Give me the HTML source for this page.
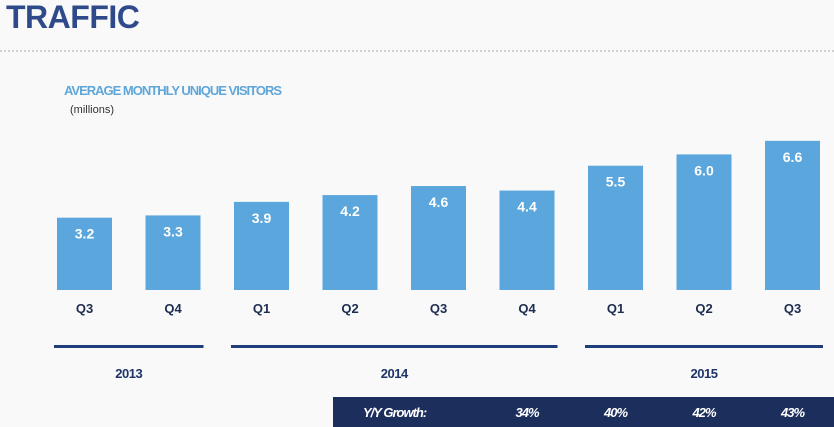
<!DOCTYPE html>
<html><head><meta charset="utf-8"><style>
body{margin:0;width:834px;height:427px;background:#f9f9f9;font-family:"Liberation Sans",Arial,sans-serif;overflow:hidden;position:relative}
.t{position:absolute}
</style></head><body>
<div class="t" style="left:6px;top:-1px;font-size:32px;font-weight:bold;color:#2e4a8a;letter-spacing:-0.5px">TRAFFIC</div>
<div class="t" style="left:0;top:50px;width:834px;border-top:2px dotted #d0d0d0"></div>
<div class="t" style="left:64px;top:83px;font-size:13px;font-weight:bold;color:#5fa6d9;letter-spacing:-1px">AVERAGE MONTHLY UNIQUE VISITORS</div>
<div class="t" style="left:70px;top:104px;font-size:11px;color:#333">(millions)</div>
<svg id="chart" class="t" style="left:0;top:0" width="834" height="427"></svg>
<script>
const quarters=["Q3","Q4","Q1","Q2","Q3","Q4","Q1","Q2","Q3"];
const visitors=[3.2,3.3,3.9,4.2,4.6,4.4,5.5,6.0,6.6];
const years=["2013","2014","2015"];
const yearSpans=[[0,1],[2,5],[6,8]];
const growthLabels=["34%","40%","42%","43%"];
const NS="http://www.w3.org/2000/svg";
const svg=document.getElementById('chart');
const base=290,unit=22.6,x0=57,pitch=88.5,bw=55;
const xs=i=>x0+i*pitch;
const ys=v=>base-v*unit;
function mk(t,a){const e=document.createElementNS(NS,t);for(const k in a)e.setAttribute(k,a[k]);svg.appendChild(e);return e;}
visitors.forEach((v,i)=>{
 const r=mk('rect',{x:xs(i),y:ys(v),width:bw,height:base-ys(v),fill:'#5ba7dd'});
 
 
 const t=mk('text',{x:xs(i)+bw/2,y:ys(v)+21,'text-anchor':'middle','font-size':14,'font-weight':'bold',fill:'#fff','font-family':'Liberation Sans'});
 t.textContent=v.toFixed(1);
 
 
 const q=mk('text',{x:xs(i)+bw/2,y:313,'text-anchor':'middle','font-size':13,'font-weight':'bold',fill:'#1d2d50','font-family':'Liberation Sans'});
 q.textContent=quarters[i];
 
 
});
yearSpans.forEach((s,j)=>{
 const a=xs(s[0])-3,b=xs(s[1])+bw+3;
 const l=mk('rect',{x:a,y:345,width:b-a,height:3,fill:'#1f3d7a'});
 
 
 const t=mk('text',{x:(a+b)/2,y:378,'text-anchor':'middle','font-size':13,'font-weight':'bold',fill:'#1f3468','font-family':'Liberation Sans','letter-spacing':'-0.5'});
 t.textContent=years[j];
 
 
});
const g=mk('rect',{x:333,y:397,width:501,height:30,fill:'#1b2e5c'});


const gl=mk('text',{x:363,y:417,'font-size':13,'font-weight':'bold','font-style':'italic',fill:'#fff','font-family':'Liberation Sans','letter-spacing':'-1'});
gl.textContent='Y/Y Growth:';


growthLabels.forEach((p,k)=>{
 const i=5+k;
 const t=mk('text',{x:xs(i)+bw/2,y:417,'text-anchor':'middle','font-size':13,'font-weight':'bold','font-style':'italic',fill:'#fff','font-family':'Liberation Sans','letter-spacing':'-1'});
 t.textContent=p;
 
 
});
</script>
</body></html>
